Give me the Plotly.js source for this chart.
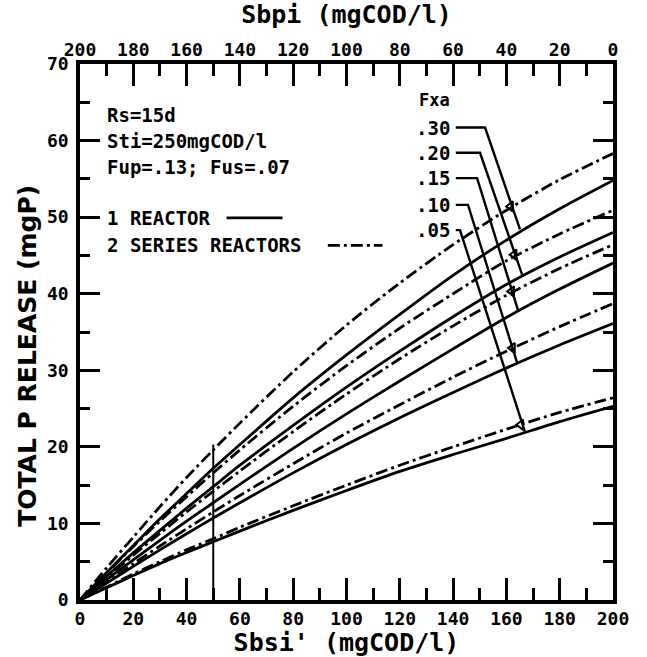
<!DOCTYPE html>
<html><head><meta charset="utf-8">
<script src="https://cdn.plot.ly/plotly-3.0.1.min.js"></script>
<style>html,body{margin:0;padding:0;background:#fff}#chart{width:647px;height:657px}</style>
</head><body><div id="chart"></div>
<script>
// Sbsi' (mgCOD/l) sample points
const sbsi = [0,10,20,30,40,50,60,80,100,120,140,160,180,200];
// Total P release (mgP)
const dd30 = [0,4.2,8.2,12.2,16.0,19.6,23.1,29.8,35.9,41.4,46.4,50.9,54.9,58.3];
const s30  = [0,3.6,7.1,10.6,13.9,17.2,20.3,26.4,32.0,37.3,42.4,47.0,51.1,54.8];
const dd20 = [0,3.5,7.0,10.3,13.5,16.6,19.6,25.3,30.6,35.5,40.0,44.3,47.8,50.9];
const s20  = [0,3.1,6.15,9.1,12.0,14.8,17.6,22.8,27.8,32.5,37.0,41.2,44.8,48.0];
const dd15 = [0,2.95,5.85,8.7,11.5,14.2,16.85,22.0,26.9,31.5,35.8,39.8,43.3,46.4];
const s15  = [0,2.65,5.25,7.8,10.3,12.7,15.1,19.8,24.3,28.6,32.8,36.9,40.6,44.0];
const dd10 = [0,2.4,4.75,7.05,9.3,11.5,13.65,17.8,21.8,25.5,29.1,32.5,35.7,38.7];
const s10  = [0,2.2,4.4,6.55,8.65,10.7,12.7,16.6,20.3,23.8,27.1,30.3,33.3,36.1];
const dd05 = [0,1.7,3.4,5.0,6.55,8.0,9.5,12.3,15.0,17.6,20.0,22.3,24.5,26.4];
const s05  = [0,1.6,3.2,4.75,6.2,7.6,9.0,11.7,14.3,16.8,19.0,21.1,23.3,25.3];

const oneReactor = [s30, s20, s15, s10, s05];
const twoSeries = [dd30, dd20, dd15, dd10, dd05];

// Fxa labels and leader lines
const fxaLabels = ['.30','.20','.15','.10','.05'];
const labelX = 139.5;
const labelY = [61.7,58.4,55.1,51.6,48.3];
const leaderX = [[141,152,165.1],[141,150.1,165.9],[141,149,164.4],[141,145.6,164.0],[141,142.6,167.0]];
const leaderY = [[61.7,61.7,48.4],[58.4,58.4,42.5],[55.1,55.1,37.8],[51.6,51.6,31.0],[48.3,48.3,21.9]];
const arrowX = [161.6,162.9,162.0,162.3,165.4];
const arrowY = [51.4,45.1,40.3,32.9,22.9];

// vertical reference line at Sbsi'=50
const refX = [50,50];
const refY = [0,20.3];

// legend samples
const legSolidX = [55,76], legSolidY = [49.9,49.9];
const legDashX = [93,113.5], legDashY = [46.3,46.3];

// tick values
const xTicks = [0,20,40,60,80,100,120,140,160,180,200];
const yTicks = [0,10,20,30,40,50,60,70];

const FONT = 'DejaVu Sans Mono';
const DASH = '12px,4px,3px,4px';
const LW = 2.8;

const traces = [];
oneReactor.forEach(v => traces.push({x: sbsi, y: v, type:'scatter', mode:'lines',
  line:{color:'black', width:LW, shape:'spline', smoothing:0.8}, hoverinfo:'skip'}));
twoSeries.forEach(v => traces.push({x: sbsi, y: v, type:'scatter', mode:'lines',
  line:{color:'black', width:LW, dash:DASH, shape:'spline', smoothing:0.8}, hoverinfo:'skip'}));
leaderX.forEach((lx,i) => traces.push({x: lx, y: leaderY[i], type:'scatter', mode:'lines',
  line:{color:'black', width:2.4}, hoverinfo:'skip'}));
traces.push({x: arrowX, y: arrowY, type:'scatter', mode:'markers',
  marker:{symbol:'triangle-left-open', size:9, color:'black', line:{width:2, color:'black'}}, hoverinfo:'skip'});
traces.push({x: refX, y: refY, type:'scatter', mode:'lines', line:{color:'black', width:2}, hoverinfo:'skip'});
traces.push({x: legSolidX, y: legSolidY, type:'scatter', mode:'lines', line:{color:'black', width:LW}, hoverinfo:'skip'});
traces.push({x: legDashX, y: legDashY, type:'scatter', mode:'lines', line:{color:'black', width:LW, dash:DASH}, hoverinfo:'skip'});
// invisible trace to activate the top (reversed) axis
traces.push({x:[0,200], y:[0,0], xaxis:'x2', type:'scatter', mode:'lines', line:{width:0}, opacity:0, hoverinfo:'skip'});

const tickfont = {family: FONT, size: 18, color:'black', weight:'bold'};
const annFont = {family: FONT, size: 19, color:'black', weight:'bold'};
const titleFont = {family: FONT, size: 25, color:'black', weight:'bold'};

const annotations = [
  {text:'Rs=15d', x:9.5, y:63.3},
  {text:'Sti=250mgCOD/l', x:9.5, y:60.0},
  {text:'Fup=.13; Fus=.07', x:9.5, y:56.6},
  {text:'1 REACTOR', x:9.5, y:49.9},
  {text:'2 SERIES REACTORS', x:9.5, y:46.3}
].map(a => Object.assign({xref:'x', yref:'y', xanchor:'left', yanchor:'middle', showarrow:false, font:annFont}, a));

annotations.push({text:'Fxa', x:labelX, y:65.3, xref:'x', yref:'y', xanchor:'right', yanchor:'middle', showarrow:false,
  font:{family:FONT, size:17, color:'black', weight:'bold'}});
fxaLabels.forEach((t,i) => annotations.push({text:t, x:labelX, y:labelY[i], xref:'x', yref:'y',
  xanchor:'right', yanchor:'middle', showarrow:false, font:{family:FONT, size:19, color:'black', weight:'bold'}}));
annotations.push({text:'TOTAL P RELEASE (mgP)', textangle:-90, xref:'paper', yref:'paper', x:-0.1, y:0.455,
  xanchor:'center', yanchor:'middle', showarrow:false, font:{family:'DejaVu Sans', size:25, color:'black', weight:'bold'}});

const layout = {
  width:647, height:657,
  margin:{l:80, r:34, t:64, b:57},
  paper_bgcolor:'white', plot_bgcolor:'white',
  showlegend:false,
  xaxis:{range:[0,200], tickvals:xTicks, ticks:'inside', ticklen:22, tickwidth:3, tickcolor:'black',
    minor:{dtick:10, tick0:0, ticks:'inside', ticklen:12, tickwidth:3, tickcolor:'black'},
    mirror:'ticks', showline:true, linewidth:3.5, linecolor:'black',
    showgrid:false, zeroline:false, tickfont:tickfont,
    title:{text:"Sbsi' (mgCOD/l)", font:titleFont, standoff:8}},
  xaxis2:{range:[200,0], tickvals:xTicks, overlaying:'x', side:'top', ticks:'', showline:false,
    showgrid:false, zeroline:false, tickfont:tickfont, ticklabelstandoff:3,
    title:{text:'Sbpi (mgCOD/l)', font:titleFont, standoff:8}},
  yaxis:{range:[0,70], tickvals:yTicks, ticks:'inside', ticklen:20, tickwidth:3, tickcolor:'black',
    minor:{dtick:5, tick0:0, ticks:'inside', ticklen:10, tickwidth:3, tickcolor:'black'},
    mirror:'ticks', showline:true, linewidth:3.5, linecolor:'black',
    showgrid:false, zeroline:false, tickfont:tickfont, ticklabelstandoff:4},
  annotations: annotations
};

Plotly.newPlot('chart', traces, layout, {displayModeBar:false});
</script>
</body></html>
